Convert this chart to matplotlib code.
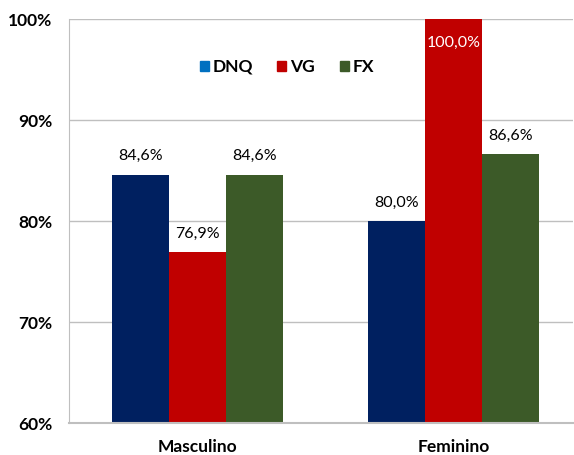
import numpy as np
import matplotlib.pyplot as plt
from matplotlib.patches import Rectangle

categories = ['Masculino', 'Feminino']
series_names = ['DNQ', 'VG', 'FX']
values = {
    'DNQ': [84.6, 80.0],
    'VG': [76.9, 100.0],
    'FX': [84.6, 86.6],
}
bar_colors = {'DNQ': '#002060', 'VG': '#C00000', 'FX': '#3C5A28'}
legend_colors = {'DNQ': '#0070C0', 'VG': '#C00000', 'FX': '#3C5A28'}
y_ticks = [60, 70, 80, 90, 100]

plt.rcParams['font.family'] = ['Lato', 'DejaVu Sans']

fig = plt.figure(figsize=(5.74, 4.56), dpi=100)
ax = fig.add_axes([69 / 574, 32 / 456, 504 / 574, 404 / 456])

x = np.arange(len(categories))
width = 0.222
for i, name in enumerate(series_names):
    pos = x + (i - 1) * width
    bars = ax.bar(pos, np.array(values[name]) - 60, width, bottom=60,
                  color=bar_colors[name], zorder=2)
    for xp, v in zip(pos, values[name]):
        txt = f'{v:.1f}%'.replace('.', ',')
        if v >= 99:
            ax.text(xp, v - 2.3, txt, ha='center', va='center',
                    color='white', fontsize=11.5, zorder=3)
        else:
            ax.text(xp, v + 1.9, txt, ha='center', va='center',
                    color='black', fontsize=11.5, zorder=3)

ax.set_ylim(60, 100)
ax.set_xlim(-0.5, 1.465)
ax.set_yticks(y_ticks)
ax.set_yticklabels([f'{t}%' for t in y_ticks], fontweight='bold', fontsize=12.5)
ax.set_xticks(x)
ax.set_xticklabels(categories, fontweight='bold', fontsize=12.5)
ax.tick_params(axis='both', length=0)
ax.tick_params(axis='y', pad=12)
ax.tick_params(axis='x', pad=10.5)
ax.grid(axis='y', color='#BFBFBF', linewidth=1, zorder=0)
for side in ['top', 'right']:
    ax.spines[side].set_visible(False)
ax.spines['left'].set_color('#BFBFBF')
ax.spines['bottom'].set_color('#BFBFBF')
ax.spines['bottom'].set_linewidth(1.5)
ax.spines['bottom'].set_zorder(3)

# legend drawn as markers + text in figure pixels
legend_x = [200, 277, 340]
for lx, name in zip(legend_x, series_names):
    fig.patches.append(Rectangle((lx / 574, (456 - 72) / 456), 9 / 574, 10 / 456,
                                 transform=fig.transFigure, color=legend_colors[name]))
    fig.text((lx + 13) / 574, (456 - 67) / 456, name, ha='left', va='center',
             fontweight='bold', fontsize=12.5)

fig.savefig('out.png', dpi=100)
